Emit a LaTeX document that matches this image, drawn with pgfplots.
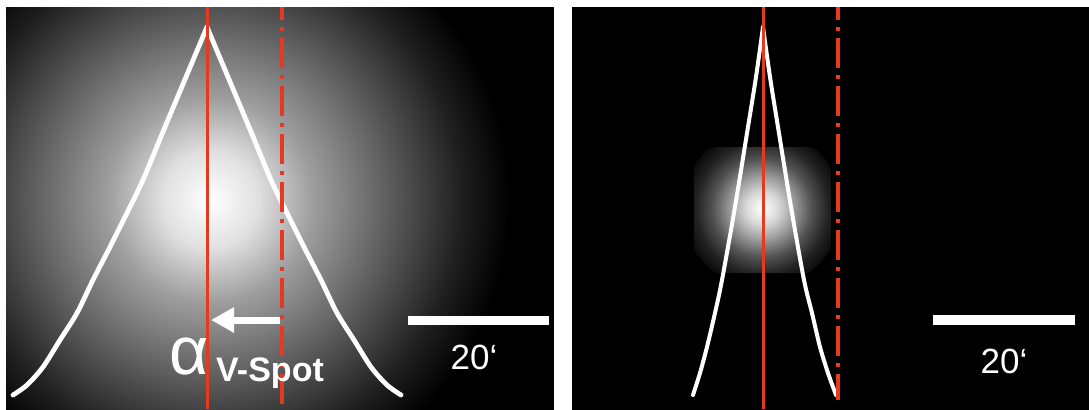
\documentclass[border=0pt]{standalone}
\usepackage{fontspec}
\setmainfont{Liberation Sans}
\usepackage{pgfplots}
\pgfplotsset{compat=1.18}
\usetikzlibrary{arrows.meta}
\definecolor{redline}{RGB}{228,58,30}
\pgfdeclareradialshading{glowA}{\pgfpoint{0bp}{0bp}}{color(0bp)=(white); color(4bp)=(white!88!black); color(8.5bp)=(white!62!black); color(16.5bp)=(white!30!black); color(21bp)=(white!12!black); color(25bp)=(black); color(50bp)=(black)}
\pgfdeclareradialshading{glowB}{\pgfpoint{0bp}{0bp}}{color(0bp)=(white); color(5bp)=(white!85!black); color(9.5bp)=(white!63!black); color(15.5bp)=(white!32!black); color(20.5bp)=(white!14!black); color(25bp)=(white!4!black); color(50bp)=(black)}
\begin{document}
\begin{tikzpicture}
\begin{axis}[
  x=0.5pt, y=0.5pt,
  xmin=0, xmax=1089, ymin=0, ymax=409,
  y dir=reverse,
  hide axis,
  clip=true,
]
% background and panels
\addplot[draw=none, fill=white] coordinates {(-10,-10) (1100,-10) (1100,420) (-10,420)} -- cycle;
\addplot[draw=none, fill=black] coordinates {(6,7) (554,7) (554,420) (6,420)} -- cycle;
\addplot[draw=none, fill=black] coordinates {(572,7) (1100,7) (1100,420) (572,420)} -- cycle;
% glows
\begin{scope}
\clip (axis cs:6,7) rectangle (axis cs:554,420);
\shade[shading=glowA] (axis cs:210,200) circle[radius=150pt];
\end{scope}
\begin{scope}
\clip[rounded corners=12pt] (axis cs:694,147) rectangle (axis cs:831,273);
\shade[shading=glowB] (axis cs:762,208) circle[radius=40pt];
\end{scope}
% white curves panel 1
\addplot[white, line width=2.4pt, line cap=round, line join=round, smooth, tension=0.5] coordinates {
(13,395) (27,385) (43,367) (60,340) (77,313) (93,280) (110,247) (127,213) (143,180) (165,127) (186,77) (207,27)};
\addplot[white, line width=2.4pt, line cap=round, line join=round, smooth, tension=0.5] coordinates {
(207,27) (228,77) (249,127) (271,180) (287,213) (304,247) (321,280) (337,313) (354,340) (371,367) (387,385) (401,395)};
% white curves panel 2
\addplot[white, line width=2pt, line cap=round, line join=round, smooth, tension=0.5] coordinates {
(693,395) (700,373) (707,347) (715,313) (722,280) (735,207) (748,127) (756,77) (763,27)};
\addplot[white, line width=2pt, line cap=round, line join=round, smooth, tension=0.5] coordinates {
(763,27) (770,77) (778,127) (791,207) (804,280) (812,313) (820,347) (828,373) (836,395)};
% red lines
\addplot[redline, line width=1.5pt] coordinates {(207,7) (207,409)};
\addplot[redline, line width=2pt, dash pattern=on 15pt off 3.5pt on 2pt off 3.5pt, dash phase=8.5pt] coordinates {(282,7) (282,409)};
\addplot[redline, line width=1.5pt] coordinates {(763,7) (763,409)};
\addplot[redline, line width=2pt, dash pattern=on 15pt off 3.5pt on 2pt off 3.5pt, dash phase=8.5pt] coordinates {(838,7) (838,400)};
% arrow
\addplot[white, line width=3.5pt, -{Triangle[length=11.5pt, width=12pt]}] coordinates {(280,320) (211,320)};
% scale bars
\addplot[white, line width=4.5pt] coordinates {(408,320) (549,320)};
\addplot[white, line width=5pt] coordinates {(933,320) (1075,320)};
% texts
\node[white, font=\fontsize{17.5}{20}\selectfont] at (axis cs:474,357) {20‘};
\node[white, font=\fontsize{17.5}{20}\selectfont] at (axis cs:1004,361) {20‘};
\node[white, font=\fontsize{34}{36}\selectfont, inner sep=0pt] at (axis cs:189,357) {α};
\node[white, font=\fontsize{17}{20}\selectfont\bfseries, inner sep=0pt] at (axis cs:270,373) {V-Spot};
\end{axis}
\end{tikzpicture}
\end{document}
